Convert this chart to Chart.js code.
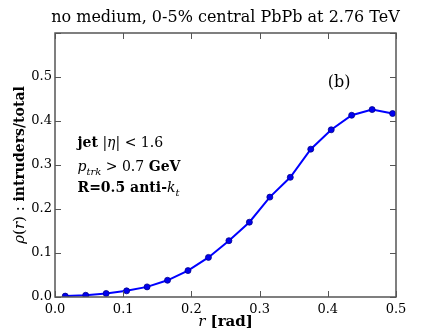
<!DOCTYPE html>
<html><head><meta charset="utf-8">
<script src="https://cdn.jsdelivr.net/npm/chart.js@4"></script>
<style>html,body{margin:0;padding:0;background:#fff}#wrap{width:440px;height:330px}</style>
</head><body><div id="wrap"><canvas id="c" width="440" height="330"></canvas></div>
<script>
const rValues = [0.015,0.045,0.075,0.105,0.135,0.165,0.195,0.225,0.255,0.285,0.315,0.345,0.375,0.405,0.435,0.465,0.495];
const rhoValues = [0.002,0.004,0.008,0.014,0.023,0.038,0.060,0.090,0.128,0.170,0.227,0.272,0.336,0.380,0.413,0.426,0.417];
const xTicks = [0.0,0.1,0.2,0.3,0.4,0.5];
const yTicks = [0.0,0.1,0.2,0.3,0.4,0.5,0.6];
const yLabelTicks = ['0.0','0.1','0.2','0.3','0.4','0.5'];
const titleText = 'no medium, 0-5% central PbPb at 2.76 TeV';
const panelLabel = '(b)';

const SERIF = '"DejaVu Serif", serif';
function runs(ctx, x, y, parts){
  let cx = x;
  for (const p of parts){
    ctx.font = p.f;
    const dy = p.sub ? 4 : 0;
    ctx.fillText(p.t, cx, y + dy);
    cx += ctx.measureText(p.t).width;
  }
  return cx;
}
function width(ctx, parts){
  let w=0; for(const p of parts){ctx.font=p.f; w+=ctx.measureText(p.t).width;} return w;
}

const framePlugin = {
  id:'frame',
  afterDatasetsDraw(chart){
    const {ctx, chartArea:a, scales:{x,y}} = chart;
    ctx.save();
    ctx.strokeStyle = '#555'; ctx.lineWidth = 1.5;
    ctx.strokeRect(a.left, a.top, a.right-a.left, a.bottom-a.top);
    ctx.lineWidth = 1;
    const L = 6;
    for (const v of xTicks){
      const px = Math.round(x.getPixelForValue(v))+0.5;
      ctx.beginPath(); ctx.moveTo(px,a.bottom); ctx.lineTo(px,a.bottom-L);
      ctx.moveTo(px,a.top); ctx.lineTo(px,a.top+L); ctx.stroke();
    }
    for (const v of yTicks){
      const py = Math.round(y.getPixelForValue(v))+0.5;
      ctx.beginPath(); ctx.moveTo(a.left,py); ctx.lineTo(a.left+L,py);
      ctx.moveTo(a.right,py); ctx.lineTo(a.right-L,py); ctx.stroke();
    }
    ctx.fillStyle = '#000';
    ctx.textBaseline = 'alphabetic';
    ctx.textAlign = 'left';
    // title
    ctx.font = '16px '+SERIF;
    const tw = ctx.measureText(titleText).width;
    ctx.fillText(titleText, (a.left+a.right)/2 - tw/2, 22);
    // panel label
    ctx.font = '16px '+SERIF;
    ctx.fillText(panelLabel, x.getPixelForValue(0.400), y.getPixelForValue(0.478));
    // annotations
    const R = '14px '+SERIF, B = 'bold 14px '+SERIF, I = 'italic 14px '+SERIF, IS='italic 10px '+SERIF;
    const ax = x.getPixelForValue(0.033);
    runs(ctx, ax, y.getPixelForValue(0.34), [{t:'jet',f:B},{t:' |',f:R},{t:'η',f:I},{t:'| < 1.6',f:R}]);
    runs(ctx, ax, y.getPixelForValue(0.286), [{t:'p',f:I},{t:'trk',f:IS,sub:true},{t:' > 0.7 ',f:R},{t:'GeV',f:B}]);
    runs(ctx, ax, y.getPixelForValue(0.238), [{t:'R=0.5 anti-',f:B},{t:'k',f:I},{t:'t',f:IS,sub:true}]);
    // x label
    const xl = [{t:'r',f:'italic 15px '+SERIF},{t:' [rad]',f:'bold 15px '+SERIF}];
    runs(ctx, (a.left+a.right)/2 - width(ctx,xl)/2, 326, xl);
    // y label
    const yl = [{t:'ρ',f:'italic 15px '+SERIF},{t:'(',f:'15px '+SERIF},{t:'r',f:'italic 15px '+SERIF},{t:') : ',f:'15px '+SERIF},{t:'intruders/total',f:'bold 14px '+SERIF}];
    ctx.translate(24, (a.top+a.bottom)/2);
    ctx.rotate(-Math.PI/2);
    runs(ctx, -width(ctx,yl)/2, 0, yl);
    ctx.restore();
  }
};

new Chart(document.getElementById('c'), {
  type:'line',
  data:{datasets:[{
    data: rValues.map((r,i)=>({x:r,y:rhoValues[i]})),
    borderColor:'#0000ff', backgroundColor:'#0000ee', borderWidth:2,
    pointRadius:3, pointBorderColor:'#00008b', pointBorderWidth:0.8, pointBackgroundColor:'#0000ee',
    tension:0, clip:0
  }]},
  options:{
    responsive:false, animation:false, devicePixelRatio:1,
    layout:{padding:{left:0,right:44,top:33,bottom:0}},
    plugins:{legend:{display:false},title:{display:false},tooltip:{enabled:false}},
    scales:{
      x:{type:'linear',min:0,max:0.5,
        grid:{display:false,drawTicks:false}, border:{display:false},
        afterBuildTicks(s){s.ticks = xTicks.map(v=>({value:v}));},
        afterFit(s){s.height=33;},
        ticks:{padding:5,color:'#000',font:{family:'"DejaVu Serif", serif',size:13},maxRotation:0,autoSkip:false,
          callback:(v)=>v.toFixed(1)}},
      y:{type:'linear',min:0,max:0.6,
        grid:{display:false,drawTicks:false}, border:{display:false},
        afterBuildTicks(s){s.ticks = yTicks.map(v=>({value:v}));},
        afterFit(s){s.width=55;},
        ticks:{padding:3,color:'#000',font:{family:'"DejaVu Serif", serif',size:13},autoSkip:false,
          callback:(v,i)=> yLabelTicks[i] !== undefined ? yLabelTicks[i] : ''}}
    }
  },
  plugins:[framePlugin]
});
</script></body></html>
